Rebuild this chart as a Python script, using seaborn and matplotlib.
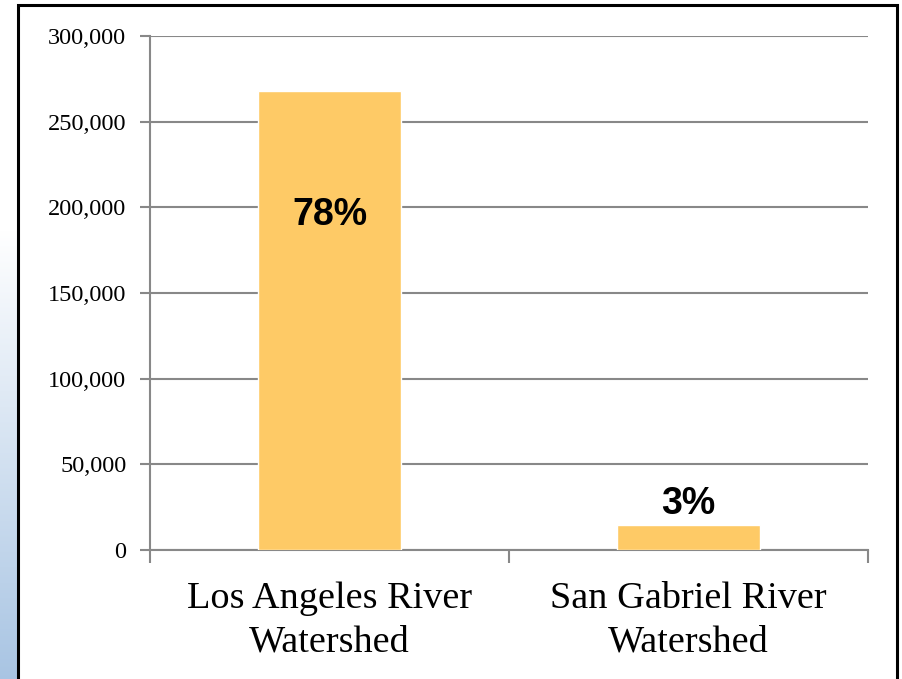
import numpy as np
import pandas as pd
import seaborn as sns
import matplotlib.pyplot as plt
from matplotlib.patches import Rectangle

# values
watersheds = ["Los Angeles River\nWatershed", "San Gabriel River\nWatershed"]
amounts = [268000, 14700]
shares = ["78%", "3%"]
yticks = [0, 50000, 100000, 150000, 200000, 250000, 300000]

df = pd.DataFrame({"watershed": watersheds, "amount": amounts})

sns.set_style("white")
plt.rcParams['font.family'] = ['Liberation Serif', 'DejaVu Serif']
plt.rcParams['text.color'] = 'black'
plt.rcParams['xtick.color'] = 'black'
plt.rcParams['ytick.color'] = 'black'

fig = plt.figure(figsize=(9.02, 6.79), dpi=100)

# bluish slide background peeking out on the left
bg = fig.add_axes([0, 0, 1, 1], zorder=-5)
bg.set_axis_off()
grad = np.ones((679, 902, 3))
top = np.array([1.0, 1.0, 1.0])
bottom = np.array([0.66, 0.77, 0.89])
for row in range(679):
    t = max(0.0, (row - 230) / (679 - 230))
    grad[row, :17] = top * (1 - t) + bottom * t
bg.imshow(grad, aspect="auto", extent=[0, 1, 0, 1])
bg.set_xlim(0, 1)
bg.set_ylim(0, 1)
bg.add_patch(Rectangle((17.5 / 902, -0.01), (897 - 17.5) / 902, 1 - 5.5 / 679 + 0.01,
                       fill=False, edgecolor="black", linewidth=2.2))

ax = fig.add_axes([150 / 902, 1 - 550 / 679, (868 - 150) / 902, (550 - 36) / 679])
sns.barplot(data=df, x="watershed", y="amount", color="#FECA66", saturation=1,
            width=0.4, ax=ax, zorder=3)

ax.set_ylim(0, 300000)
ax.set_xlim(-0.5, 1.5)
ax.set_yticks(yticks)
ax.set_yticklabels([f"{v:,}" for v in yticks], fontsize=17.5)
ax.set_xticks([0, 1])
ax.set_xticklabels(watersheds, fontsize=27.5, linespacing=1.33)
ax.set_xticks([-0.5, 0.5, 1.5], minor=True)
ax.tick_params(axis="x", which="major", length=0, pad=23, bottom=True)
ax.tick_params(axis="x", which="minor", length=9, width=1.5, color="#888888",
               direction="out", bottom=True)
ax.tick_params(axis="y", length=7, width=1.5, color="#888888", labelcolor="black",
               direction="out", pad=10, left=True)
ax.set_xlabel("")
ax.set_ylabel("")
ax.grid(axis="y", color="#888888", linewidth=1.5, zorder=0)
ax.set_axisbelow(True)
for s in ["top", "right"]:
    ax.spines[s].set_visible(False)
for s in ["left", "bottom"]:
    ax.spines[s].set_color("#888888")
    ax.spines[s].set_linewidth(1.5)

# percentage labels
ax.text(0, 195500, shares[0], ha="center", va="center", fontsize=27,
        fontweight="bold", family="Liberation Sans", color="black", zorder=5)
ax.text(1, amounts[1] + 12000, shares[1], ha="center", va="center", fontsize=27,
        fontweight="bold", family="Liberation Sans", color="black", zorder=5)

fig.savefig("out.png", dpi=100)
